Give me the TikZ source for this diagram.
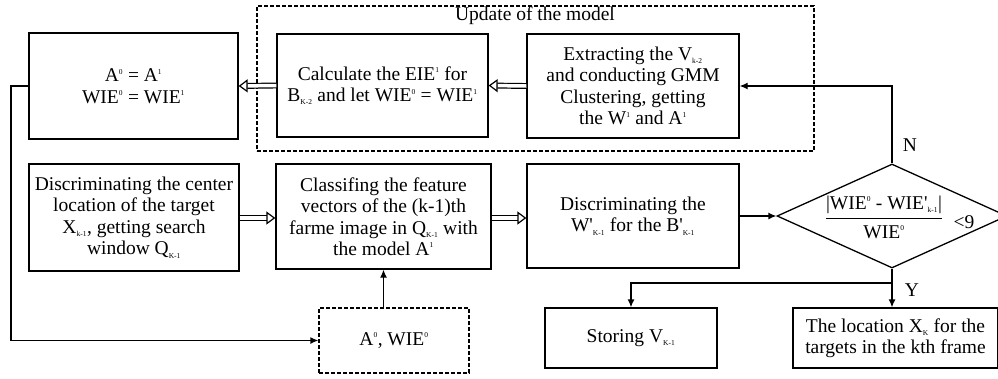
\documentclass[tikz,border=0pt]{standalone}
\usepackage{fontspec}
\setmainfont{Liberation Serif}
\usetikzlibrary{arrows.meta,shapes.geometric}
\newcommand\up[1]{\textsuperscript{\fontsize{7.5}{7.5}\selectfont #1}}
\newcommand\lo[1]{\textsubscript{\fontsize{7.5}{7.5}\selectfont #1}}
\newcommand\pr{\textquotesingle}
\begin{document}
\begin{tikzpicture}[x=1pt,y=-1pt,
  box/.style={draw,line width=1.3pt,align=center,inner sep=0pt,font=\fontsize{19.5}{21.5}\selectfont},
  dbox/.style={box,dashed,dash pattern=on 4pt off 2pt},
  dbl/.style={double,double distance=3.5pt,line width=1.2pt,-{Triangle[open,length=9pt,width=13pt,line width=1.2pt]}},
  arr/.style={line width=1.3pt,-{Latex[length=8pt,width=7pt]}},
  lab/.style={font=\fontsize{19.5}{21.5}\selectfont,inner sep=0pt}]
\useasboundingbox (0,0) rectangle (998,378);
% update dashed frame
\node[dbox,minimum width=557,minimum height=145] (upd) at (535.5,78.5) {};
\node[lab] (updt) at (535,16) {Update of the model};
% top row
\node[box,minimum width=209,minimum height=106] (a0) at (133.5,86) {A\up{0} = A\up{1}\\WIE\up{0} = WIE\up{1}};
\node[box,minimum width=211,minimum height=103] (calc) at (382.5,85.5) {Calculate the EIE\up{1} for\\B\lo{K-2} and let WIE\up{0} = WIE\up{1}};
\node[box,minimum width=212,minimum height=104] (ext) at (633,86) {Extracting the V\lo{k-2}\\and conducting GMM\\Clustering, getting\\the W\up{1} and A\up{1}};
% middle row
\node[box,minimum width=210,minimum height=107] (disc) at (134,217.5) {Discriminating the center\\location of the target\\X\lo{k-1}, getting search\\window Q\lo{K-1}};
\node[box,minimum width=215,minimum height=105] (cls) at (383.5,216.5) {Classifing the feature\\vectors of the (k-1)th\\farme image in Q\lo{K-1} with\\the model A\up{1}};
\node[box,minimum width=212,minimum height=104] (dw) at (633,216) {Discriminating the\\W\pr\lo{K-1} for the B\pr\lo{K-1}};
% diamond
\node[draw,line width=1.3pt,diamond,minimum width=230,minimum height=104,inner sep=0pt] (dia) at (892,216) {};
\node[lab] (frac) at (884,217) {$\displaystyle{\mbox{|WIE\up{0} - WIE\pr\lo{k-1}|}\above 1.5pt\mbox{WIE\up{0}}}$};
\node[lab] (lt) at (964,222) {<9};
% bottom row
\node[box,minimum width=172,minimum height=60] (sto) at (631,338) {Storing V\lo{K-1}};
\node[box,minimum width=205,minimum height=60] (loc) at (895.5,338) {The location X\lo{K} for the\\targets in the kth frame};
\node[dbox,minimum width=150,minimum height=65] (aw) at (394,340.5) {A\up{0}, WIE\up{0}};
% labels
\node[lab] (N) at (910,145) {N};
\node[lab] (Y) at (912,290) {Y};
\coordinate (br) at (892,283);
\coordinate (lc) at (11,86);
% connectors
\draw[dbl] (ext.west) -- (calc.east);
\draw[dbl] (calc.west) -- (a0.east);
\draw[dbl] (disc.east|-0,218) -- (cls.west|-0,218);
\draw[dbl] (cls.east|-0,218) -- (dw.west|-0,218);
\draw[arr] (dw.east) -- (dia.west);
\draw[arr] (dia.north) |- (ext.east);
\draw[line width=1.3pt] (dia.south) -- (br);
\draw[arr] (br) -- (loc.north-|br);
\draw[arr] (br) -| (sto.north);
\draw[arr] (aw.north-|cls.south) -- (cls.south);
\draw[arr] (a0.west) -- (lc) |- (aw.west);
\end{tikzpicture}
\end{document}
